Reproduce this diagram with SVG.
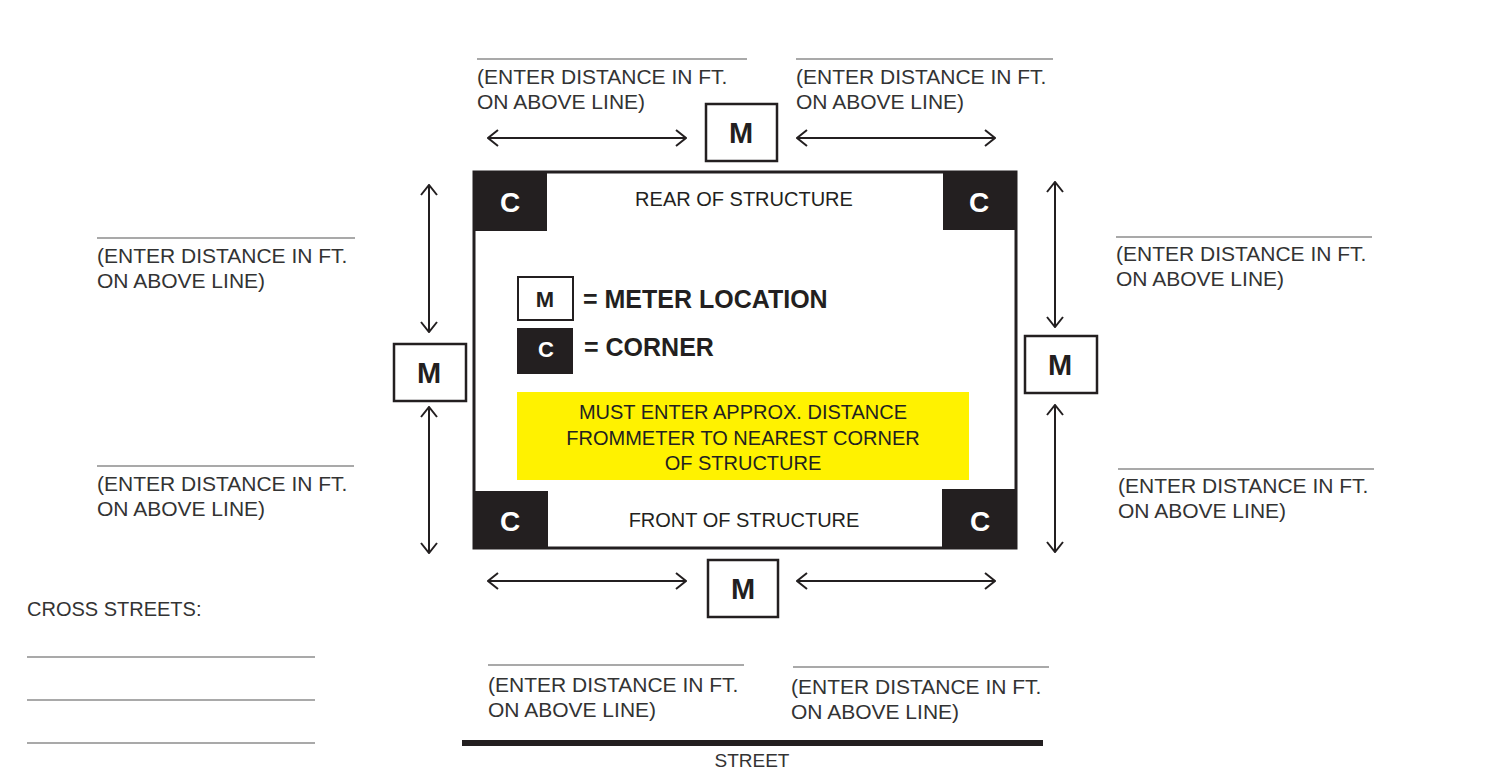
<svg xmlns="http://www.w3.org/2000/svg" width="1486" height="771" viewBox="0 0 1486 771">
<defs>
<marker id="ah" viewBox="0 0 12 18" refX="11" refY="9" markerWidth="12" markerHeight="18" markerUnits="userSpaceOnUse" orient="auto-start-reverse">
<polyline points="1,1 11,9 1,17" fill="none" stroke="#231f20" stroke-width="2"/>
</marker>
<style>
.t{font-family:"Liberation Sans",Arial,sans-serif;font-size:21px;fill:#333}
.tm{font-family:"Liberation Sans",Arial,sans-serif;font-size:20px;fill:#231f20;text-anchor:middle}
.b{font-family:"Liberation Sans",Arial,sans-serif;font-weight:bold;fill:#231f20}
.cw{font-family:"Liberation Sans",Arial,sans-serif;font-weight:bold;font-size:28px;fill:#fff;text-anchor:middle}
.mt{font-family:"Liberation Sans",Arial,sans-serif;font-weight:bold;font-size:29px;fill:#231f20;text-anchor:middle}
.ln{stroke:#555;stroke-width:1.2;fill:none}
.ar{stroke:#231f20;stroke-width:2;fill:none;marker-start:url(#ah);marker-end:url(#ah)}
.mb{fill:#fff;stroke:#231f20;stroke-width:2.5}
.cb{fill:#231f20}
</style>
</defs>
<rect width="1486" height="771" fill="#fff"/>

<g id="structure">
<rect x="474" y="172" width="542" height="376" fill="#fff" stroke="#231f20" stroke-width="3"/>
<text class="tm" x="744" y="206">REAR OF STRUCTURE</text>
<text class="tm" x="744" y="527">FRONT OF STRUCTURE</text>
</g>
<g id="corner-tl"><rect class="cb" x="473" y="171" width="74" height="60"/><text class="cw" x="510" y="212">C</text></g>
<g id="corner-tr"><rect class="cb" x="943" y="171" width="74" height="59"/><text class="cw" x="979" y="212">C</text></g>
<g id="corner-bl"><rect class="cb" x="473" y="491" width="75" height="58"/><text class="cw" x="510" y="531">C</text></g>
<g id="corner-br"><rect class="cb" x="942" y="489" width="75" height="60"/><text class="cw" x="980" y="531">C</text></g>

<g id="legend">
<rect class="mb" x="518" y="277" width="55" height="43" style="stroke-width:2"/>
<text class="b" x="545" y="307" font-size="22" text-anchor="middle">M</text>
<text class="b" x="583" y="308" font-size="25">= METER LOCATION</text>
<rect class="cb" x="517" y="328" width="56" height="46"/>
<text class="b" x="546" y="357" font-size="22" style="fill:#fff" text-anchor="middle">C</text>
<text class="b" x="584" y="356" font-size="25">= CORNER</text>
</g>

<g id="note">
<rect x="517" y="392" width="452" height="88" fill="#fff200"/>
<text class="tm" x="743" y="419">MUST ENTER APPROX. DISTANCE</text>
<text class="tm" x="743" y="445">FROMMETER TO NEAREST CORNER</text>
<text class="tm" x="743" y="470">OF STRUCTURE</text>
</g>

<g id="meter-top"><rect class="mb" x="706" y="104" width="71" height="57"/><text class="mt" x="741" y="143">M</text></g>
<g id="meter-left"><rect class="mb" x="394" y="344" width="72" height="57"/><text class="mt" x="429" y="383">M</text></g>
<g id="meter-right"><rect class="mb" x="1025" y="336" width="72" height="57"/><text class="mt" x="1060" y="375">M</text></g>
<g id="meter-bottom"><rect class="mb" x="708" y="560" width="70" height="57"/><text class="mt" x="743" y="599">M</text></g>

<g id="connectors">
<line class="ar" x1="488" y1="138" x2="686" y2="138"/>
<line class="ar" x1="797" y1="138" x2="995" y2="138"/>
<line class="ar" x1="488" y1="581" x2="686" y2="581"/>
<line class="ar" x1="797" y1="581" x2="995" y2="581"/>
<line class="ar" x1="429" y1="185" x2="429" y2="332"/>
<line class="ar" x1="429" y1="407" x2="429" y2="553"/>
<line class="ar" x1="1055" y1="182" x2="1055" y2="327"/>
<line class="ar" x1="1055" y1="405" x2="1055" y2="552"/>
</g>

<g id="label-top-left">
<line class="ln" x1="477" y1="59" x2="747" y2="59"/>
<text class="t" x="477" y="84">(ENTER DISTANCE IN FT.</text>
<text class="t" x="477" y="109">ON ABOVE LINE)</text>
</g>
<g id="label-top-right">
<line class="ln" x1="796" y1="59" x2="1053" y2="59"/>
<text class="t" x="796" y="84">(ENTER DISTANCE IN FT.</text>
<text class="t" x="796" y="109">ON ABOVE LINE)</text>
</g>
<g id="label-left-top">
<line class="ln" x1="97" y1="238" x2="355" y2="238"/>
<text class="t" x="97" y="263">(ENTER DISTANCE IN FT.</text>
<text class="t" x="97" y="288">ON ABOVE LINE)</text>
</g>
<g id="label-left-bottom">
<line class="ln" x1="97" y1="466" x2="354" y2="466"/>
<text class="t" x="97" y="491">(ENTER DISTANCE IN FT.</text>
<text class="t" x="97" y="516">ON ABOVE LINE)</text>
</g>
<g id="label-right-top">
<line class="ln" x1="1116" y1="237" x2="1372" y2="237"/>
<text class="t" x="1116" y="261">(ENTER DISTANCE IN FT.</text>
<text class="t" x="1116" y="286">ON ABOVE LINE)</text>
</g>
<g id="label-right-bottom">
<line class="ln" x1="1118" y1="469" x2="1374" y2="469"/>
<text class="t" x="1118" y="493">(ENTER DISTANCE IN FT.</text>
<text class="t" x="1118" y="518">ON ABOVE LINE)</text>
</g>
<g id="label-bottom-left">
<line class="ln" x1="488" y1="665" x2="744" y2="665"/>
<text class="t" x="488" y="692">(ENTER DISTANCE IN FT.</text>
<text class="t" x="488" y="717">ON ABOVE LINE)</text>
</g>
<g id="label-bottom-right">
<line class="ln" x1="793" y1="667" x2="1049" y2="667"/>
<text class="t" x="791" y="694">(ENTER DISTANCE IN FT.</text>
<text class="t" x="791" y="719">ON ABOVE LINE)</text>
</g>

<g id="street">
<rect x="462" y="740" width="581" height="6" fill="#231f20"/>
<text class="tm" x="752" y="767" style="fill:#333;font-size:19px">STREET</text>
</g>

<g id="cross-streets">
<text class="t" x="27" y="616" style="font-size:20px">CROSS STREETS:</text>
<line class="ln" x1="27" y1="657" x2="315" y2="657"/>
<line class="ln" x1="27" y1="700" x2="315" y2="700"/>
<line class="ln" x1="27" y1="743" x2="315" y2="743"/>
</g>
</svg>
